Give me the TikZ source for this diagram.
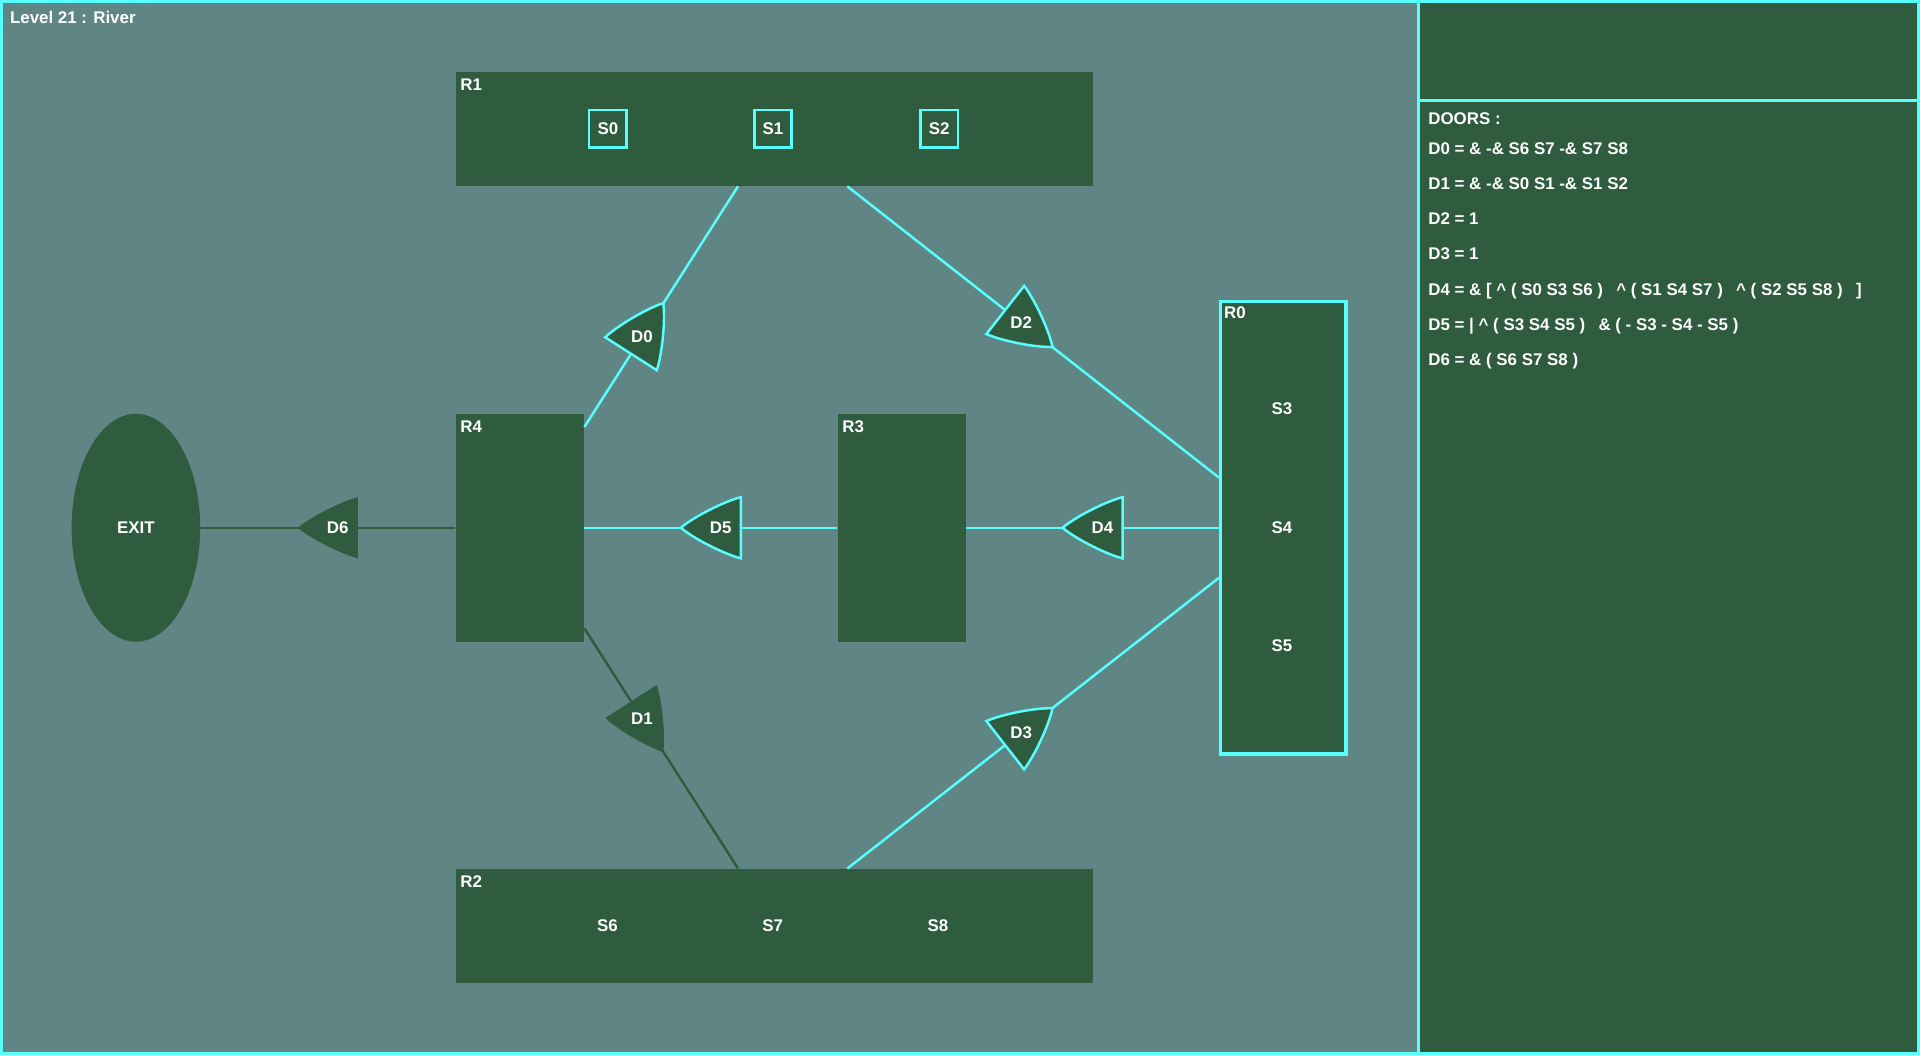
\documentclass[tikz,border=0pt]{standalone}
\usepackage{fontspec}
\setmainfont{Liberation Sans}
\usepackage{tikz}
\usetikzlibrary{shapes.geometric}
\usetikzlibrary{calc}

\definecolor{floorgray}{RGB}{95,134,133}
\definecolor{roomgreen}{RGB}{47,91,63}
\definecolor{wirecyan}{RGB}{88,255,255}

\newcommand\wgap{\hspace{7pt} }

\tikzset{
   txt/.style={text=white, font=\fontsize{13.8}{16}\selectfont\bfseries, inner sep=0pt},
   room/.style={txt, fill=roomgreen, minimum width=105, minimum height=186},
   wideroom/.style={room, minimum width=521, minimum height=93},
   sensor/.style={txt, draw=wirecyan, line width=2, minimum size=30.4},
   roomname/.style={txt, anchor=base west},
   openline/.style={wirecyan, line width=2},
   shutline/.style={roomgreen, line width=2},
   opendoor/.style={fill=roomgreen, draw=wirecyan, line width=2},
   shutdoor/.style={fill=roomgreen},
   door/.pic={
      \path[pic actions] (24.5,0) .. controls (12.5,10) and (-12.5,22) .. (-24.5,25)
         -- (-24.5,-25) .. controls (-12.5,-22) and (12.5,-10) .. (24.5,0) -- cycle;
      \node[txt] (-lbl) at (-8,0) {#1};
   }
}

\begin{document}
\begin{tikzpicture}[x=1pt, y=-1pt]
   \useasboundingbox (0,0) rectangle (1568,861.6);

   % frame and side panel
   \fill[floorgray] (0,0) rectangle (1568,861.6);
   \fill[roomgreen] (1158.8,0) rectangle (1568,861.6);
   \draw[wirecyan, line width=2.4] (1.2,1.2) rectangle (1566.8,860.4);
   \draw[wirecyan, line width=2.4] (1158.8,0) -- (1158.8,861.6);
   \draw[wirecyan, line width=2.4] (1158.8,82.2) -- (1568,82.2);

   \node[txt, anchor=base west] (title) at (8,19.6) {Level 21 : River};

   % rooms
   \node[wideroom] (r1) at (632.5,105.5) {};
   \node[wideroom] (r2) at (632.5,756) {};
   \node[room] (r4) at (424.5,431) {};
   \node[room] (r3) at (736.5,431) {};
   \node[room, draw=wirecyan, line width=2.7, minimum width=102.3, minimum height=369.3] (r0) at (1048,431) {};
   \node[room, ellipse] (exit) at (111,431) {EXIT};

   \foreach \r/\t in {r0/R0,r1/R1,r2/R2,r3/R3,r4/R4}
      \node[roomname] (\r-name) at ([shift={(4,15.5)}]\r.north west) {\t};

   % sensors
   \node[sensor] (s0) at (496.4,105.2) {S0};
   \node[sensor] (s1) at (631.2,105.2) {S1};
   \node[sensor] (s2) at (767,105.2) {S2};
   \node[txt] (s3) at (1047,334) {S3};
   \node[txt] (s4) at (1047,431) {S4};
   \node[txt] (s5) at (1047,527) {S5};
   \node[txt] (s6) at (496,756) {S6};
   \node[txt] (s7) at (631,756) {S7};
   \node[txt] (s8) at (766,756) {S8};

   % connections
   \draw[shutline] (exit) -- (r4);
   \draw[shutline] (r4) -- (r2);
   \draw[openline] (r4) -- (r1);
   \draw[openline] (r4) -- (r3);
   \draw[openline] (r3) -- (r0);
   \draw[openline] (r1) -- (r0);
   \draw[openline] (r2) -- (r0);

   % doors, tip towards the second room
   \path (r4.center) -- (r1.center) pic[pos=.5, sloped, allow upside down, opendoor] (d0) {door=D0};
   \path (r4.center) -- (r2.center) pic[pos=.5, sloped, allow upside down, shutdoor] (d1) {door=D1};
   \path (r1.center) -- (r0.center) pic[pos=.5, sloped, allow upside down, opendoor] (d2) {door=D2};
   \path (r2.center) -- (r0.center) pic[pos=.5, sloped, allow upside down, opendoor] (d3) {door=D3};
   \path (r0.center) -- (r3.center) pic[pos=.5, sloped, allow upside down, opendoor] (d4) {door=D4};
   \path (r3.center) -- (r4.center) pic[pos=.5, sloped, allow upside down, opendoor] (d5) {door=D5};
   \path (r4.center) -- (exit.center) pic[pos=.5, sloped, allow upside down, shutdoor] (d6) {door=D6};

   % door rules
   \node[txt, anchor=base west] (rules) at (1166.3,101.3) {DOORS :};
   \foreach \t [count=\i from 0] in {
      {D0 = \& -\& S6 S7 -\& S7 S8},
      {D1 = \& -\& S0 S1 -\& S1 S2},
      {D2 = 1},
      {D3 = 1},
      {D4 = \& [ \textasciicircum\ ( S0 S3 S6 )\wgap\textasciicircum\ ( S1 S4 S7 )\wgap\textasciicircum\ ( S2 S5 S8 )\wgap]},
      {D5 = | \textasciicircum\ ( S3 S4 S5 )\wgap\& ( - S3 - S4 - S5 )},
      {D6 = \& ( S6 S7 S8 )}}
      \node[txt, anchor=base west] (rule\i) at (1166.3,125.8+28.8*\i) {\t};
\end{tikzpicture}
\end{document}
